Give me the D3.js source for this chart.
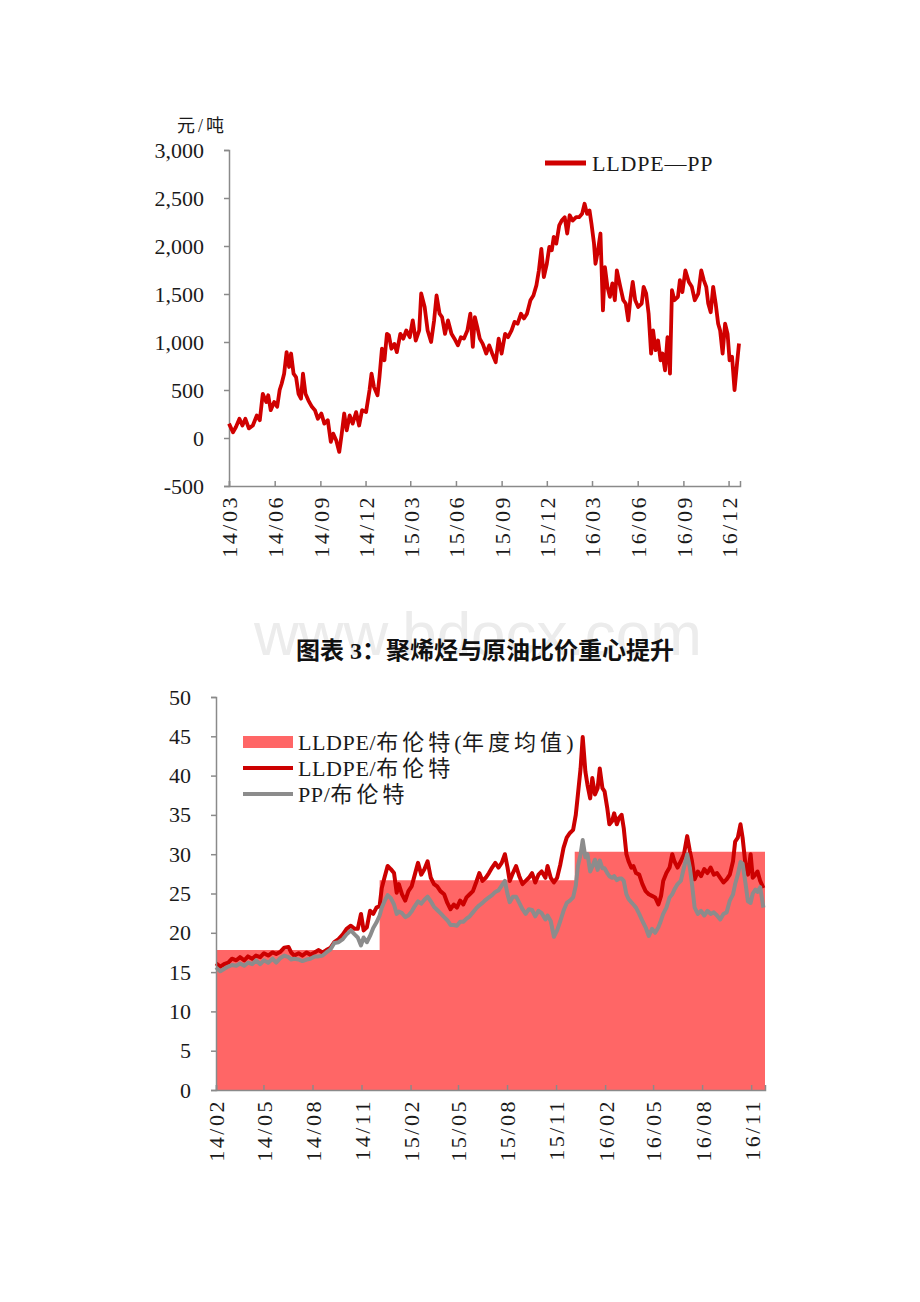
<!DOCTYPE html>
<html>
<head>
<meta charset="utf-8">
<script src="https://cdn.jsdelivr.net/npm/d3@7"></script>
<style>
  body { margin: 0; background: #fff; }
  text { font-family: "Liberation Serif", "Noto Sans CJK SC", serif; }
</style>
</head>
<body>
<div id="container"></div>
<script>
const width = 920;
const height = 1302;

// ---- chart 1: LLDPE - PP spread (yuan/ton) ----
const spreadDates = [
  "2014-03-01","2014-03-09","2014-03-15","2014-03-22","2014-03-28","2014-04-03","2014-04-10","2014-04-18","2014-04-26",
  "2014-05-02","2014-05-08","2014-05-15","2014-05-19","2014-05-24","2014-05-31","2014-06-06","2014-06-11","2014-06-15",
  "2014-06-20","2014-06-25","2014-06-30","2014-07-04","2014-07-09","2014-07-14","2014-07-19","2014-07-24","2014-07-28",
  "2014-08-02","2014-08-08","2014-08-15","2014-08-21","2014-08-27","2014-09-03","2014-09-09","2014-09-16","2014-09-22",
  "2014-09-27","2014-10-03","2014-10-09","2014-10-14","2014-10-19","2014-10-24","2014-10-30","2014-11-05","2014-11-12",
  "2014-11-18","2014-11-24","2014-12-02","2014-12-09","2014-12-13","2014-12-18","2014-12-25","2014-12-29",
  "2015-01-03","2015-01-08","2015-01-13","2015-01-17","2015-01-22","2015-01-28","2015-02-02","2015-02-09","2015-02-15",
  "2015-02-21","2015-02-28","2015-03-06","2015-03-12","2015-03-19","2015-03-23","2015-03-30","2015-04-05","2015-04-12",
  "2015-04-18","2015-04-23","2015-04-29","2015-05-04","2015-05-10","2015-05-16","2015-05-23","2015-05-29","2015-06-05",
  "2015-06-11","2015-06-17","2015-06-24","2015-06-30","2015-07-05","2015-07-09","2015-07-14","2015-07-19","2015-07-25",
  "2015-08-01","2015-08-07","2015-08-13","2015-08-20","2015-08-26","2015-09-01","2015-09-08","2015-09-14","2015-09-21",
  "2015-09-27","2015-10-03","2015-10-10","2015-10-16","2015-10-22","2015-10-29","2015-11-04","2015-11-10","2015-11-15",
  "2015-11-20","2015-11-25","2015-12-01","2015-12-06","2015-12-11","2015-12-15","2015-12-20","2015-12-26","2015-12-31",
  "2016-01-06","2016-01-11","2016-01-16","2016-01-22","2016-01-29","2016-02-04","2016-02-10","2016-02-15","2016-02-20",
  "2016-02-25","2016-02-29","2016-03-05","2016-03-08","2016-03-13","2016-03-18","2016-03-23","2016-03-27","2016-04-01",
  "2016-04-06","2016-04-11","2016-04-16","2016-04-20","2016-04-27","2016-05-03","2016-05-08","2016-05-13","2016-05-17",
  "2016-05-22","2016-05-27","2016-06-02","2016-06-09","2016-06-13","2016-06-18","2016-06-23","2016-06-28","2016-07-02",
  "2016-07-07","2016-07-12","2016-07-17","2016-07-21","2016-07-26","2016-07-31","2016-08-05","2016-08-09","2016-08-14",
  "2016-08-21","2016-08-25","2016-08-30","2016-09-05","2016-09-12","2016-09-18","2016-09-24","2016-10-01","2016-10-07",
  "2016-10-12","2016-10-17","2016-10-21","2016-10-26","2016-10-31","2016-11-05","2016-11-10","2016-11-14","2016-11-19",
  "2016-11-24","2016-11-29","2016-12-03","2016-12-08","2016-12-13","2016-12-18","2016-12-22"
];
const spreadValues = [
  150,60,115,200,130,200,100,130,235,
  185,460,375,445,290,375,325,500,565,
  670,895,740,880,670,635,460,410,670,
  460,390,325,290,200,255,150,185,-40,
  45,-25,-145,45,255,80,235,150,270,
  130,290,270,500,670,530,445,635,
  930,810,1085,1070,930,980,895,1085,1035,
  1120,1050,1225,1015,1120,1505,1365,1120,1000,
  1225,1485,1295,1260,1085,1225,1085,1035,965,
  1050,1035,1120,1295,950,1260,1155,1035,980,
  880,965,880,790,1035,880,1085,1050,1120,
  1210,1190,1295,1245,1295,1435,1485,1590,1745,
  1970,1675,1815,1990,1955,2095,2025,2215,2265,
  2300,2130,2320,2265,2300,2300,2335,2440,2335,
  2370,2230,2025,1815,1955,2130,1330,1780,1575,
  1470,1610,1435,1745,1575,1435,1400,1225,1435,
  1625,1435,1365,1400,1575,1505,1295,880,1120,
  915,1015,810,880,705,1050,670,1540,1435,
  1470,1645,1520,1745,1625,1575,1435,1505,1745,
  1645,1575,1400,1310,1575,1400,1190,1120,880,
  1190,1085,810,845,500,775,985
];
const spreadTickDates = ["2014-03-01","2014-06-01","2014-09-01","2014-12-01","2015-03-01","2015-06-01",
  "2015-09-01","2015-12-01","2016-03-01","2016-06-01","2016-09-01","2016-12-01"];
const spreadYTicks = [-500, 0, 500, 1000, 1500, 2000, 2500, 3000];
const spreadDomain = ["2014-03-01", "2016-12-24"];

// ---- chart 2: polyolefin / Brent ratio ----
const ratioDates = [
  "2014-02-01","2014-02-09","2014-02-16","2014-02-24","2014-03-03","2014-03-11","2014-03-18","2014-03-26","2014-04-02",
  "2014-04-10","2014-04-17","2014-04-25","2014-05-02","2014-05-10","2014-05-18","2014-05-25","2014-06-02","2014-06-09",
  "2014-06-17","2014-06-22","2014-06-28","2014-07-06","2014-07-13","2014-07-21","2014-07-28","2014-08-05","2014-08-12",
  "2014-08-20","2014-08-27","2014-09-04","2014-09-11","2014-09-19","2014-09-27","2014-10-04","2014-10-12","2014-10-19",
  "2014-10-25","2014-10-31","2014-11-05","2014-11-11","2014-11-17","2014-11-23","2014-11-29","2014-12-05","2014-12-09",
  "2014-12-14","2014-12-20","2014-12-26","2015-01-01","2015-01-06","2015-01-10","2015-01-16","2015-01-22","2015-01-28",
  "2015-02-03","2015-02-09","2015-02-15","2015-02-21","2015-02-27","2015-03-05","2015-03-11","2015-03-17","2015-03-23",
  "2015-03-29","2015-04-05","2015-04-11","2015-04-17","2015-04-23","2015-04-29","2015-05-05","2015-05-11","2015-05-17",
  "2015-05-23","2015-05-29","2015-06-04","2015-06-10","2015-06-16","2015-06-22","2015-06-28","2015-07-04","2015-07-10",
  "2015-07-16","2015-07-22","2015-07-28","2015-08-02","2015-08-06","2015-08-12","2015-08-18","2015-08-24","2015-08-30",
  "2015-09-05","2015-09-11","2015-09-17","2015-09-23","2015-09-29","2015-10-05","2015-10-12","2015-10-16","2015-10-22",
  "2015-10-28","2015-11-03","2015-11-09","2015-11-15","2015-11-21","2015-11-27","2015-12-03","2015-12-08","2015-12-12",
  "2015-12-17","2015-12-21","2015-12-26","2015-12-30","2016-01-04","2016-01-08","2016-01-13","2016-01-18","2016-01-22",
  "2016-01-27","2016-01-31","2016-02-05","2016-02-09","2016-02-14","2016-02-18","2016-02-23","2016-02-27","2016-03-03",
  "2016-03-07","2016-03-12","2016-03-16","2016-03-21","2016-03-25","2016-03-30","2016-04-05","2016-04-11","2016-04-17",
  "2016-04-23","2016-04-29","2016-05-05","2016-05-11","2016-05-16","2016-05-20","2016-05-26","2016-06-01","2016-06-06",
  "2016-06-10","2016-06-16","2016-06-22","2016-06-28","2016-07-04","2016-07-09","2016-07-13","2016-07-18","2016-07-24",
  "2016-07-30","2016-08-05","2016-08-11","2016-08-17","2016-08-23","2016-08-29","2016-09-04","2016-09-10","2016-09-16",
  "2016-09-22","2016-09-28","2016-10-02","2016-10-07","2016-10-12","2016-10-16","2016-10-21","2016-10-26","2016-10-31",
  "2016-11-04","2016-11-09","2016-11-13","2016-11-18","2016-11-24"
];
const lldpeRatio = [
  16.1,15.7,16.0,16.2,16.7,16.5,16.9,16.5,17.0,
  16.7,17.1,16.9,17.4,17.1,17.5,17.3,17.6,18.1,
  18.2,17.5,17.1,17.4,17.1,17.5,17.2,17.5,17.8,
  17.5,17.8,18.1,18.8,19.2,19.8,20.5,20.9,20.5,
  20.5,22.4,20.3,20.7,22.8,22.4,23.2,23.4,25.7,
  27.0,28.5,28.1,27.6,25.1,26.2,24.9,24.1,25.3,
  25.9,27.4,28.9,27.4,28.1,29.1,27.0,26.2,25.9,
  25.3,24.9,23.8,23.0,23.6,23.2,24.1,23.6,24.5,
  24.9,25.3,26.4,27.6,26.6,27.0,27.6,28.3,28.9,
  28.3,28.9,30.0,28.3,26.6,27.6,28.5,27.2,26.2,
  26.6,27.0,27.6,26.4,27.4,27.8,27.0,28.5,27.0,
  26.4,27.0,28.7,30.8,32.1,32.7,33.1,35.0,37.6,
  40.9,44.9,40.5,38.8,37.1,39.7,37.6,38.4,40.9,
  38.4,38.0,35.9,33.8,34.2,35.2,33.8,34.6,35.0,
  33.3,30.0,29.1,28.3,28.5,27.6,27.4,26.2,25.3,
  24.9,24.7,24.5,23.6,24.7,26.6,27.6,28.3,30.0,
  29.1,28.3,29.1,30.0,32.3,30.4,29.1,26.8,27.8,
  27.2,28.1,27.6,28.3,27.4,27.6,27.0,26.4,26.8,
  27.4,29.1,31.6,32.1,33.8,32.1,28.9,27.4,30.0,
  27.0,27.4,27.8,26.6,25.7
];
const ppRatio = [
  15.6,15.1,15.4,15.7,15.9,15.8,16.1,15.8,16.2,
  16.0,16.5,16.0,16.5,16.2,16.7,16.2,16.8,17.1,
  16.9,16.6,16.7,16.6,16.4,16.6,16.7,17.0,17.0,
  17.1,17.5,17.9,18.7,18.8,19.2,19.8,20.3,19.8,
  19.4,18.4,19.4,18.8,19.6,20.6,21.3,22.2,23.2,
  24.0,24.8,24.4,23.6,22.4,22.7,22.5,22.0,22.2,
  22.7,23.4,24.0,23.7,24.2,24.6,24.0,23.3,22.9,
  22.5,22.0,21.6,21.0,21.0,20.9,21.4,21.4,21.8,
  22.1,22.6,23.1,23.5,23.8,24.2,24.5,24.8,25.2,
  25.4,26.0,26.6,24.9,23.9,24.6,24.6,23.8,23.0,
  22.4,23.0,22.9,22.1,22.8,22.5,21.7,22.2,21.5,
  19.5,20.3,21.5,22.8,23.8,24.1,24.5,26.0,28.5,
  30.0,31.8,29.6,30.0,27.8,28.4,29.3,28.0,29.2,
  28.2,28.2,27.6,27.2,27.0,27.2,26.7,26.9,26.9,
  26.6,24.9,24.3,23.9,23.6,23.2,22.4,21.5,20.7,
  19.6,20.5,20.0,20.7,21.6,22.4,23.2,24.5,24.9,
  25.5,26.2,26.6,28.3,30.0,28.3,26.2,23.2,22.4,
  22.8,22.2,22.8,22.4,22.6,22.2,21.7,22.4,22.6,
  24.1,24.9,26.2,27.4,29.0,28.8,26.5,24.0,23.8,
  25.0,25.5,25.2,25.8,23.2
];
const yearBounds = ["2014-02-01", "2014-12-05", "2015-12-06", "2016-11-27"];
const yearAvg = [17.8, 26.7, 30.3];
const ratioTickDates = ["2014-02-01","2014-05-01","2014-08-01","2014-11-01","2015-02-01","2015-05-01",
  "2015-08-01","2015-11-01","2016-02-01","2016-05-01","2016-08-01","2016-11-01"];
const ratioYTicks = [0, 5, 10, 15, 20, 25, 30, 35, 40, 45, 50];

const parse = d3.timeParse("%Y-%m-%d");
const fmtMonth = d3.timeFormat("%y/%m");
const axisColor = "#8a8a8a";

const svg = d3.select("#container").append("svg")
  .attr("width", width)
  .attr("height", height)
  .attr("viewBox", [0, 0, width, height]);

svg.append("rect").attr("width", width).attr("height", height).attr("fill", "#fff");

// shared axis drawing (y ticks outward, x ticks inward, labels rotated)
function drawAxes(x, y, xTicks, yTicks, yFmt, bottom, left) {
  svg.append("g")
    .attr("transform", `translate(0,${bottom})`)
    .call(d3.axisBottom(x).tickValues(xTicks).tickSize(-5).tickFormat(fmtMonth))
    .call(g => {
      g.select(".domain").attr("stroke", axisColor).attr("stroke-width", 1.5);
      g.selectAll(".tick line").attr("stroke", axisColor).attr("stroke-width", 1.5);
      g.selectAll("text")
        .attr("transform", "rotate(-90)")
        .attr("text-anchor", "end")
        .attr("x", -9).attr("y", 0).attr("dy", "0.36em")
        .attr("fill", "#1a1a1a")
        .style("font-size", "22px")
        .style("letter-spacing", "2.5px");
    });

  svg.append("g")
    .attr("transform", `translate(${left},0)`)
    .call(d3.axisLeft(y).tickValues(yTicks).tickSize(5).tickPadding(20).tickFormat(yFmt))
    .call(g => {
      g.select(".domain").attr("stroke", axisColor).attr("stroke-width", 1.5);
      g.selectAll(".tick line").attr("stroke", axisColor).attr("stroke-width", 1.5);
      g.selectAll("text").attr("fill", "#1a1a1a").style("font-size", "22px");
    });
}

// latin runs plain, CJK runs spaced out like the original
function spacedLabel(sel, label) {
  label.split(/([\u4e00-\u9fff]+)/).filter(s => s.length).forEach(part => {
    const cjk = /[\u4e00-\u9fff]/.test(part);
    sel.append("tspan")
      .style("letter-spacing", cjk ? "4px" : "0.6px")
      .text(part);
  });
}

// ---------------- chart 1 ----------------
{
  const left = 229, right = 740, top = 150, bottom = 486;
  const x = d3.scaleTime().domain(spreadDomain.map(parse)).range([left, right]);
  const y = d3.scaleLinear().domain([-500, 3000]).range([bottom, top]);
  const data = spreadDates.map((d, i) => ({ date: parse(d), value: spreadValues[i] }));

  drawAxes(x, y, spreadTickDates.map(parse), spreadYTicks,
    d => d3.format(",")(d).replace("\u2212", "-"), bottom, left);

  svg.append("path")
    .datum(data)
    .attr("fill", "none")
    .attr("stroke", "#d00000")
    .attr("stroke-width", 3.8)
    .attr("stroke-linejoin", "round")
    .attr("d", d3.line().x(d => x(d.date)).y(d => y(d.value)));

  svg.append("text")
    .attr("x", 177).attr("y", 132)
    .style("font-size", "18px").style("letter-spacing", "3px")
    .attr("fill", "#1a1a1a")
    .text("元/吨");

  svg.append("line")
    .attr("x1", 545).attr("x2", 586).attr("y1", 163).attr("y2", 163)
    .attr("stroke", "#d00000").attr("stroke-width", 5);
  svg.append("text")
    .attr("x", 592).attr("y", 171)
    .style("font-size", "22px").style("letter-spacing", "0.8px")
    .attr("fill", "#1a1a1a")
    .text("LLDPE—PP");
}

// ---------------- title ----------------
svg.append("text")
  .attr("x", 478).attr("y", 655)
  .attr("text-anchor", "middle")
  .style("font-family", "'Liberation Sans', sans-serif")
  .style("font-size", "62px")
  .attr("fill", "#ececec")
  .text("www.bdocx.com");

svg.append("text")
  .attr("x", 485).attr("y", 659)
  .attr("text-anchor", "middle")
  .style("font-size", "24px")
  .style("font-weight", "bold")
  .attr("fill", "#111")
  .text("图表 3：聚烯烃与原油比价重心提升");

// ---------------- chart 2 ----------------
{
  const left = 216, right = 765, top = 697, bottom = 1090;
  const x = d3.scaleTime().domain([parse(yearBounds[0]), parse(yearBounds[3])]).range([left, right]);
  const y = d3.scaleLinear().domain([0, 50]).range([bottom, top]);

  const steps = yearAvg.map((v, i) => ({ date: parse(yearBounds[i]), value: v }));
  steps.push({ date: parse(yearBounds[3]), value: yearAvg[yearAvg.length - 1] });

  svg.append("path")
    .datum(steps)
    .attr("fill", "#ff6666")
    .attr("d", d3.area().curve(d3.curveStepAfter)
      .x(d => x(d.date)).y0(y(0)).y1(d => y(d.value)));

  const lldpe = ratioDates.map((d, i) => ({ date: parse(d), value: lldpeRatio[i] }));
  const pp = ratioDates.map((d, i) => ({ date: parse(d), value: ppRatio[i] }));
  const line = d3.line().x(d => x(d.date)).y(d => y(d.value));

  svg.append("path").datum(lldpe)
    .attr("fill", "none").attr("stroke", "#cc0000").attr("stroke-width", 4)
    .attr("stroke-linejoin", "round").attr("d", line);
  svg.append("path").datum(pp)
    .attr("fill", "none").attr("stroke", "#8c8c8c").attr("stroke-width", 4)
    .attr("stroke-linejoin", "round").attr("d", line);

  drawAxes(x, y, ratioTickDates.map(parse), ratioYTicks, d => d, bottom, left);

  // legend
  const legend = [
    { label: "LLDPE/布伦特(年度均值)", kind: "area", color: "#ff6666" },
    { label: "LLDPE/布伦特", kind: "line", color: "#cc0000" },
    { label: "PP/布伦特", kind: "line", color: "#8c8c8c" }
  ];
  const lg = svg.append("g").attr("transform", "translate(243,742)");
  legend.forEach((d, i) => {
    const row = lg.append("g").attr("transform", `translate(0,${i * 26})`);
    if (d.kind === "area") {
      row.append("rect").attr("x", 0).attr("y", -6).attr("width", 50).attr("height", 12).attr("fill", d.color);
    } else {
      row.append("line").attr("x1", 0).attr("x2", 50).attr("y1", 0).attr("y2", 0)
        .attr("stroke", d.color).attr("stroke-width", 4);
    }
    row.append("text")
      .attr("x", 55).attr("y", 8)
      .style("font-size", "22px")
      .attr("fill", "#1a1a1a")
      .call(spacedLabel, d.label);
  });
}
</script>
</body>
</html>
